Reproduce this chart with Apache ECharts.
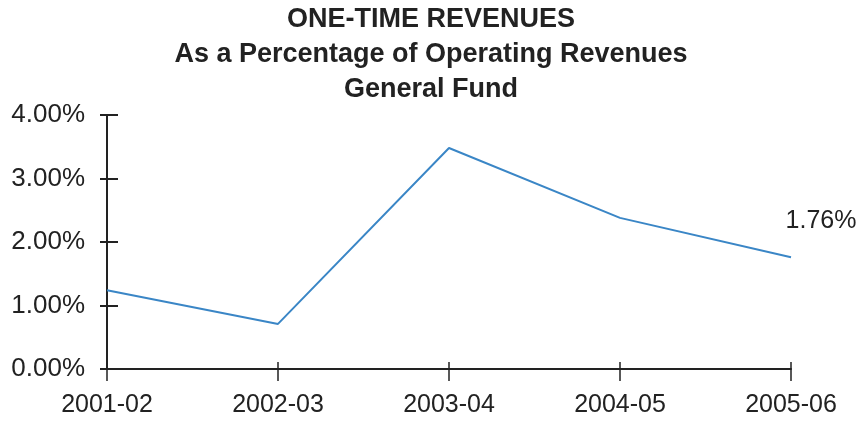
<!DOCTYPE html>
<html>
<head>
<meta charset="utf-8">
<script src="https://cdn.jsdelivr.net/npm/echarts@6/dist/echarts.min.js"></script>
<style>
  html, body { margin: 0; padding: 0; background: #fff; }
  #chart { width: 862px; height: 426px; }
</style>
</head>
<body>
<div id="chart"></div>
<script>
// Fiscal years on the category axis
const years = ['2001-02', '2002-03', '2003-04', '2004-05', '2005-06'];
// One-time revenues as % of operating revenues
const oneTimePct = [1.24, 0.71, 3.48, 2.38, 1.76];
// Value axis range and step (percent)
const yMin = 0, yMax = 4, yStep = 1;

const chart = echarts.init(document.getElementById('chart'));
const font = 'Liberation Sans, Arial, sans-serif';
const ink = '#222';

// Only the latest year carries a value label
const lastIdx = oneTimePct.length - 1;
const seriesData = oneTimePct.map((v, i) => i === lastIdx ? {
  value: v,
  label: {
    show: true,
    formatter: v.toFixed(2) + '%',
    position: 'top',
    offset: [30, -19],
    fontSize: 25,
    fontFamily: font,
    color: ink
  }
} : v);

const axisLineStyle = { color: ink, width: 2 };

chart.setOption({
  animation: false,
  title: {
    text: 'ONE-TIME REVENUES\nAs a Percentage of Operating Revenues\nGeneral Fund',
    left: 'center',
    top: 2,
    padding: 0,
    textStyle: {
      fontFamily: font,
      fontWeight: 'bold',
      fontSize: 27,
      lineHeight: 35,
      color: ink
    }
  },
  grid: { left: 107, right: 71, top: 115, bottom: 57 },
  xAxis: [{
    type: 'category',
    data: years,
    boundaryGap: false,
    axisLine: { lineStyle: axisLineStyle },
    axisTick: { show: true, length: 12, lineStyle: { color: ink, width: 1.5 } },
    axisLabel: { fontSize: 25, fontFamily: font, color: ink, margin: 24 },
    splitLine: { show: false }
  }, {
    type: 'category',
    data: years,
    boundaryGap: false,
    position: 'bottom',
    axisLine: { show: false },
    axisTick: { show: true, inside: true, length: 7, lineStyle: { color: ink, width: 1.5 } },
    axisLabel: { show: false },
    splitLine: { show: false }
  }],
  yAxis: [{
    type: 'value',
    min: yMin,
    max: yMax,
    interval: yStep,
    axisLine: { show: true, lineStyle: axisLineStyle },
    axisTick: { show: true, length: 7, lineStyle: { color: ink, width: 2 } },
    axisLabel: {
      fontSize: 26, fontFamily: font, color: ink, margin: 22,
      formatter: v => v.toFixed(2) + '%'
    },
    splitLine: { show: false }
  }, {
    type: 'value',
    min: yMin,
    max: yMax,
    interval: yStep,
    position: 'left',
    axisLine: { show: false },
    axisTick: { show: true, inside: true, length: 11, lineStyle: { color: ink, width: 2 } },
    axisLabel: { show: false },
    splitLine: { show: false }
  }],
  series: [{
    type: 'line',
    data: seriesData,
    symbol: 'circle',
    symbolSize: 0,
    showSymbol: true,
    lineStyle: { color: '#3a86c6', width: 2 },
    itemStyle: { color: '#3a86c6' }
  }]
});
</script>
</body>
</html>
